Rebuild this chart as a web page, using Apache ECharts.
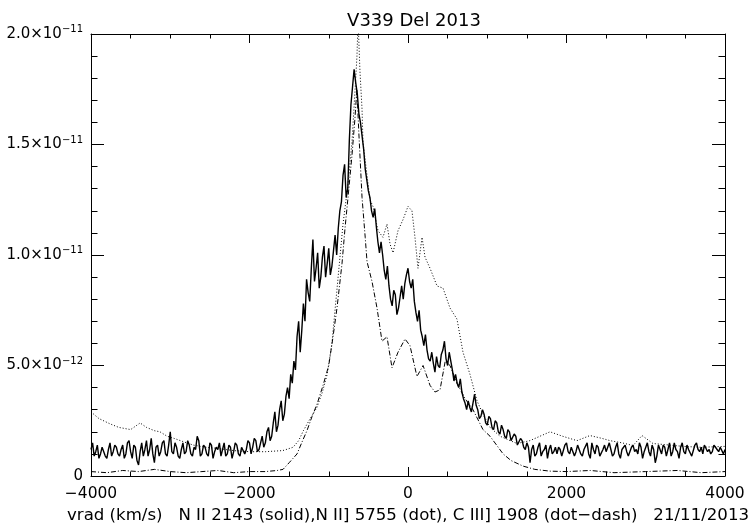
<!DOCTYPE html>
<html>
<head>
<meta charset="utf-8">
<script src="https://cdn.jsdelivr.net/npm/echarts@6/dist/echarts.min.js"></script>
<style>
html,body{margin:0;padding:0;background:#fff;overflow:hidden;width:753px;height:529px;}
#c{width:753px;height:529px;}
</style>
</head>
<body>
<div id="c"></div>
<script>
// ---- data (flux in units of 1e-12) ----
const titleText = 'V339 Del 2013';
const xCaption = 'vrad (km/s)   N II 2143 (solid),N II] 5755 (dot), C III] 1908 (dot\u2212dash)   21/11/2013';
const xTicks = [-4000, -2000, 0, 2000, 4000];
const yTickLabels = {0: ['0', ''], 5: ['5.0\u00d710', '\u221212'], 10: ['1.0\u00d710', '\u221211'], 15: ['1.5\u00d710', '\u221211'], 20: ['2.0\u00d710', '\u221211']};

// N II 2143 (solid): sampled every 20 km/s from -4000 to 4000
const solidStart = -4000;
const solidStep = 20;
const solidFlux = [
  // -4000 .. -2000
  1.2,1.5,0.9,1.1,1.4,0.8,1.0,1.3,1.3,0.9,0.8,1.2,1.5,0.9,1.1,1.4,1.3,1.0,0.9,1.2,
  1.4,0.8,1.0,1.5,1.6,1.1,0.8,1.4,1.3,0.7,0.5,1.1,1.5,0.9,1.2,1.6,0.9,1.2,1.7,1.0,
  0.6,1.3,1.4,0.9,1.1,1.5,1.6,1.0,0.9,1.4,2.0,1.1,1.0,1.5,1.3,0.9,0.8,1.2,1.5,1.0,
  1.1,1.6,1.4,1.0,0.9,1.3,1.2,1.8,1.6,0.9,1.0,1.4,1.3,1.0,0.9,1.5,1.4,0.8,1.1,1.3,
  1.2,1.5,0.9,1.2,1.5,0.9,1.0,1.4,1.3,0.8,1.1,1.5,1.4,1.0,0.9,1.3,1.3,1.0,1.2,1.6,1.5,
  // -1980 .. -1480
  1.0,1.3,1.7,1.6,1.1,1.2,1.5,1.8,1.3,1.5,2.0,2.2,1.6,1.8,2.4,2.9,2.0,2.3,3.0,3.4,
  2.5,2.8,3.6,4.0,3.5,4.6,
  // -1460 .. -500
  4.2,5.2,4.8,6.3,7.0,5.6,6.6,7.8,7.0,8.9,8.3,7.9,9.4,10.7,8.8,9.4,10.1,8.5,9.0,9.9,
  10.4,9.0,9.6,10.3,9.1,9.5,10.2,10.9,10.0,11.2,12.0,12.4,13.6,14.1,12.6,13.0,15.2,16.8,17.6,18.4,
  17.8,17.3,16.4,16.0,15.4,14.8,13.9,13.4,12.9,
  // -480 .. 1500
  12.6,12.0,11.7,12.1,11.3,10.6,10.1,10.6,10.0,9.3,
  8.9,9.5,8.6,8.0,7.7,8.4,8.2,7.3,7.6,8.1,
  8.6,8.0,8.7,9.1,9.4,8.8,8.5,8.9,7.9,7.4,
  7.0,7.5,6.6,6.3,5.9,6.4,5.7,5.3,5.2,5.6,
  5.1,4.7,5.4,5.0,4.9,5.5,5.7,6.1,5.3,5.0,
  5.6,5.2,4.8,4.3,4.6,4.2,4.0,4.4,3.8,3.5,
  3.3,3.0,3.4,3.1,2.9,3.3,3.7,3.2,3.0,2.6,
  2.7,3.0,2.8,2.4,2.3,2.7,2.6,2.2,2.1,2.5,
  2.4,2.0,1.9,2.3,2.1,1.8,1.7,2.1,2.0,1.6,
  1.6,1.9,1.8,1.4,1.4,1.7,1.6,1.3,1.2,1.5,
  // 1520 .. 4000
  1.3,0.6,1.2,1.4,0.9,1.0,1.3,1.5,0.9,1.1,
  1.2,1.4,0.8,1.2,1.4,1.0,1.1,1.3,1.0,1.3,
  1.2,0.9,0.9,1.4,1.5,1.1,1.0,1.3,1.3,0.9,
  1.1,1.4,1.4,1.0,0.9,1.2,1.2,1.5,1.0,0.8,
  1.5,1.2,1.0,1.4,1.3,0.9,0.9,1.2,1.4,1.1,
  1.1,1.5,1.2,0.9,1.0,1.3,1.5,1.0,0.8,1.2,
  1.3,1.4,1.1,0.9,0.9,1.3,1.4,1.1,1.2,1.0,
  1.5,1.3,0.8,1.1,1.3,1.5,1.1,0.9,1.4,1.2,
  0.6,0.9,1.4,1.2,1.0,1.4,1.3,0.9,1.2,1.5,
  0.9,1.1,1.5,1.2,1.1,0.8,1.3,1.5,1.1,1.0,
  1.4,1.2,1.2,0.9,0.9,1.4,1.5,1.2,1.1,1.3,
  1.0,1.4,1.4,1.1,1.2,1.0,1.1,1.4,1.3,1.2,
  1.1,1.3,1.3,1.0,1.2
];

// N II] 5755 (dotted)
const dotV = [-4000,-3900,-3760,-3650,-3500,-3420,-3380,-3300,-3200,-3130,-3040,-2950,-2840,-2710,-2550,-2410,-2200,-2000,-1800,-1580,-1450,-1380,-1320,-1250,-1150,-1080,-1020,-960,-900,-820,-757,-707,-669,-644,-630,-606,-580,-568,-517,-480,-442,-378,-316,-265,-227,-189,-126,-63,0,50,88,126,177,215,278,366,442,530,618,694,782,871,946,1035,1161,1375,1539,1792,1950,2133,2296,2450,2549,2700,2840,2953,3091,3300,3470,3700,4000];
const dotF = [2.9,2.6,2.36,2.2,2.1,2.3,2.4,2.2,2.05,2.0,1.8,1.7,1.56,1.4,1.3,1.25,1.15,1.1,1.1,1.15,1.3,1.6,2.05,2.5,3.1,3.8,4.6,6.0,8.3,11.4,13.2,15.1,17.4,19.0,20.6,18.3,16.6,15.1,13.6,12.5,12.2,11.1,10.8,11.4,10.5,10.1,11.1,11.6,12.2,12.0,10.8,9.4,10.8,9.9,9.4,8.6,8.5,7.6,7.1,5.6,4.6,3.4,2.8,2.2,1.8,1.47,1.6,2.0,1.8,1.6,1.83,1.7,1.6,1.5,1.38,1.83,1.47,1.4,1.34,1.3,1.34];

// C III] 1908 (dot-dash)
const dashV = [-4000,-3800,-3600,-3400,-3200,-3000,-2800,-2600,-2400,-2200,-2000,-1800,-1650,-1577,-1500,-1400,-1330,-1275,-1210,-1148,-1072,-1000,-950,-896,-833,-795,-757,-707,-669,-645,-620,-580,-540,-517,-454,-391,-328,-265,-202,-126,-38,25,113,190,278,340,404,470,530,618,720,820,946,1035,1200,1300,1450,1600,1792,2000,2300,2600,3000,3400,3700,4000];
const dashF = [0.2,0.15,0.25,0.2,0.3,0.2,0.15,0.2,0.25,0.15,0.2,0.2,0.25,0.3,0.6,1.0,1.6,2.05,2.7,3.25,4.1,5.0,6.2,7.6,9.6,11.2,12.6,14.5,16.2,17.5,15.5,12.6,10.8,9.7,8.8,7.6,6.1,6.3,4.9,5.6,6.2,5.9,4.5,5.0,4.1,3.8,3.9,5.2,5.0,4.2,3.5,3.0,2.1,1.8,1.0,0.7,0.45,0.3,0.22,0.2,0.25,0.15,0.2,0.25,0.15,0.2];

const solidData = solidFlux.map((f, i) => [solidStart + i * solidStep, f]);
const dotData = dotV.map((v, i) => [v, dotF[i]]);
const dashData = dashV.map((v, i) => [v, dashF[i]]);

const FONT = 'DejaVu Sans';
const black = '#000';

function yFmt(val) {
  const t = yTickLabels[Math.round(val)];
  if (!t) return '';
  if (!t[1]) return '{b|' + t[0] + '}';
  return '{b|' + t[0] + '}{s|' + t[1] + '}';
}

const xAxisBase = {
  type: 'value', min: -4000, max: 4000, interval: 2000,
  axisLine: {show: true, onZero: false, lineStyle: {color: black, width: 1}},
  axisTick: {show: true, inside: true, length: 9, lineStyle: {color: black}},
  minorTick: {show: true, splitNumber: 4, length: 4.5, lineStyle: {color: black}},
  splitLine: {show: false}
};
const yAxisBase = {
  type: 'value', min: 0, max: 20, interval: 5,
  axisLine: {show: true, onZero: false, lineStyle: {color: black, width: 1}},
  axisTick: {show: true, inside: true, length: 13, lineStyle: {color: black}},
  minorTick: {show: true, splitNumber: 5, length: 6.5, lineStyle: {color: black}},
  splitLine: {show: false}
};

const chart = echarts.init(document.getElementById('c'), null, {renderer: 'canvas'});
chart.setOption({
  animation: false,
  backgroundColor: '#fff',
  title: {
    text: titleText, left: 409, top: 7, textAlign: 'center',
    textStyle: {fontFamily: FONT, fontSize: 18, fontWeight: 'normal', color: black}
  },
  grid: {left: 91, right: 28, top: 34, bottom: 46, containLabel: false},
  xAxis: [
    Object.assign({}, xAxisBase, {
      position: 'bottom',
      axisLabel: {
        show: true, margin: 10, color: black, fontFamily: FONT, fontSize: 15.5,
        formatter: v => String(v).replace('-', '\u2212')
      },
      name: xCaption, nameLocation: 'middle', nameGap: 31,
      nameTextStyle: {fontFamily: FONT, fontSize: 16.6, color: black}
    }),
    Object.assign({}, xAxisBase, {position: 'top', axisLabel: {show: false}})
  ],
  yAxis: [
    Object.assign({}, yAxisBase, {
      position: 'left',
      axisLabel: {
        show: true, margin: 8, color: black, formatter: yFmt,
        rich: {
          b: {fontFamily: FONT, fontSize: 15, color: black},
          s: {fontFamily: FONT, fontSize: 10, color: black, padding: [0, 0, 9, 0]}
        }
      }
    }),
    Object.assign({}, yAxisBase, {position: 'right', axisLabel: {show: false}})
  ],
  series: [
    {
      name: 'N II 2143', type: 'line', data: solidData, showSymbol: false, clip: true,
      lineStyle: {color: black, width: 1.4}
    },
    {
      name: 'N II] 5755', type: 'line', data: dotData, showSymbol: false, clip: true,
      lineStyle: {color: black, width: 1, type: [1, 2]}
    },
    {
      name: 'C III] 1908', type: 'line', data: dashData, showSymbol: false, clip: true,
      lineStyle: {color: black, width: 1, type: [5, 2, 1, 2]}
    }
  ]
});
</script>
</body>
</html>
